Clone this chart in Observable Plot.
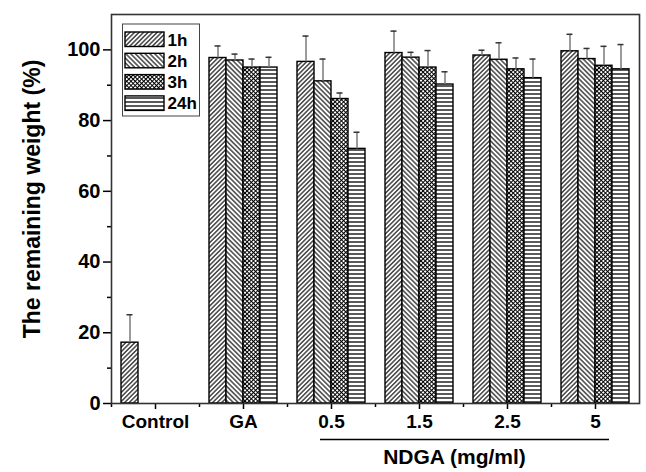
<!DOCTYPE html>
<html>
<head>
<meta charset="utf-8">
<script src="https://cdn.jsdelivr.net/npm/d3@7"></script>
<script src="https://cdn.jsdelivr.net/npm/@observablehq/plot@0.6"></script>
<style>
  html, body { margin: 0; padding: 0; background: #fff; }
  svg { display: block; overflow: visible; }
</style>
</head>
<body>
<div id="chart"></div>
<script>
// ---- data ----
const categories = ["Control", "GA", "0.5", "1.5", "2.5", "5"];
const series = ["1h", "2h", "3h", "24h"];
const mean1h  = [17.2, 97.7, 96.6, 99.1, 98.4, 99.6];
const mean2h  = [null, 97.0, 91.1, 97.8, 97.2, 97.4];
const mean3h  = [null, 95.0, 86.1, 95.0, 94.5, 95.5];
const mean24h = [null, 95.0, 72.0, 90.2, 92.0, 94.5];
const err1h  = [7.9, 3.4, 7.3, 6.2, 1.5, 4.8];
const err2h  = [null, 1.8, 6.3, 1.5, 4.8, 3.0];
const err3h  = [null, 2.4, 1.7, 4.8, 3.2, 5.5];
const err24h = [null, 2.9, 4.7, 3.6, 5.4, 7.0];
const yTicks = [0, 20, 40, 60, 80, 100];
const yMinorTicks = [10, 30, 50, 70, 90];
const yLabel = "The remaining weight (%)";
const groupLabel = "NDGA (mg/ml)";
const groupedCategories = ["0.5", "5"];

const means = [mean1h, mean2h, mean3h, mean24h];
const errs = [err1h, err2h, err3h, err24h];
const rows = categories.flatMap((c, i) =>
  series.map((s, j) => ({cat: c, series: s, value: means[j][i], err: errs[j][i]}))
).filter(d => d.value != null);

// ---- layout ----
const W = 646, H = 472;
const mL = 111, mR = 7, mT = 14, mB = 69;
const fxStep = (W - mL - mR) / categories.length;
const FONT = "'Liberation Sans', Arial, Helvetica, sans-serif";

const plot = Plot.plot({
  width: W, height: H,
  marginLeft: mL, marginRight: mR, marginTop: mT, marginBottom: mB,
  style: {fontFamily: FONT, fontWeight: "bold", color: "#000", background: "#fff"},
  fx: {domain: categories, padding: 0, label: null},
  x: {domain: series, paddingInner: 0, paddingOuter: 0.48, axis: null},
  y: {domain: [0, 110], label: null},
  color: {domain: series, range: series.map(s => `url(#pat-${s})`)},
  marks: [
    Plot.barY(rows, {fx: "cat", x: "series", y: "value", fill: "series", stroke: "#000", strokeWidth: 1.4}),
    Plot.ruleX(rows, {fx: "cat", x: "series", y1: "value", y2: d => d.value + d.err, stroke: "#7a7a7a", strokeWidth: 1.5}),
    Plot.tickY(rows, {fx: "cat", x: "series", y: d => d.value + d.err, stroke: "#333", strokeWidth: 1.5, insetLeft: 5.5, insetRight: 5.5}),
    Plot.axisY({ticks: yTicks, tickSize: 8, tickPadding: 3, fontSize: 20, label: null, strokeWidth: 1.5}),
    Plot.axisY({ticks: yMinorTicks, tickSize: 4, text: null, label: null, strokeWidth: 1.5}),
    Plot.axisFx({anchor: "bottom", tickSize: 6, tickPadding: 5, fontSize: 19, label: null, strokeWidth: 1.5}),
    Plot.axisFx({anchor: "bottom", tickSize: 4, text: null, label: null, dx: -fxStep / 2, strokeWidth: 1.5}),
    Plot.frame({facet: "super", stroke: "#333", strokeWidth: 1.6}),
    Plot.text([yLabel], {facet: "super", text: d => d, frameAnchor: "left", textAnchor: "middle", rotate: -90, dx: -79, dy: -10, fontSize: 23, fontWeight: "bold", fill: "#000"})
  ]
});

// ---- pattern definitions ----
const NS = "http://www.w3.org/2000/svg";
function el(name, attrs, parent) {
  const e = document.createElementNS(NS, name);
  for (const k in attrs) e.setAttribute(k, attrs[k]);
  if (parent) parent.appendChild(e);
  return e;
}
const defs = el("defs", {});
plot.insertBefore(defs, plot.firstChild);
function pattern(id, size, transform) {
  const p = el("pattern", {id, width: size, height: size, patternUnits: "userSpaceOnUse"}, defs);
  if (transform) p.setAttribute("patternTransform", transform);
  el("rect", {width: size, height: size, fill: "#fff"}, p);
  return p;
}
let p = pattern("pat-1h", 3.2, "rotate(45)");
el("line", {x1: 1.6, y1: 0, x2: 1.6, y2: 3.2, stroke: "#000", "stroke-width": 1.1}, p);
p = pattern("pat-2h", 3.4, "rotate(-45)");
el("line", {x1: 1.7, y1: 0, x2: 1.7, y2: 3.4, stroke: "#000", "stroke-width": 1.1}, p);
p = pattern("pat-3h", 3, "rotate(45)");
el("line", {x1: 1.5, y1: 0, x2: 1.5, y2: 3, stroke: "#000", "stroke-width": 1}, p);
el("line", {x1: 0, y1: 1.5, x2: 3, y2: 1.5, stroke: "#000", "stroke-width": 1}, p);
p = pattern("pat-24h", 4, null);
el("line", {x1: 0, y1: 2, x2: 4, y2: 2, stroke: "#000", "stroke-width": 1.3}, p);

// ---- legend inside the frame ----
const lg = el("g", {transform: `translate(${mL + 11.5},${mT + 10})`, "font-family": FONT, "font-weight": "bold", "font-size": 17, "text-anchor": "start"}, plot);
el("rect", {x: 0, y: 0, width: 77, height: 92, fill: "#fff", stroke: "#444", "stroke-width": 1}, lg);
series.forEach((s, i) => {
  const y = 8 + i * 21.3;
  el("rect", {x: 2.5, y, width: 39, height: 14.5, fill: `url(#pat-${s})`, stroke: "#000", "stroke-width": 1.4}, lg);
  const t = el("text", {x: 45, y: y + 13.5, fill: "#000", "text-anchor": "start"}, lg);
  t.textContent = s;
});

// ---- NDGA group annotation ----
const fx = plot.scale("fx");
const gx0 = fx.apply(groupedCategories[0]) + fx.bandwidth / 2 - 11;
const gx1 = fx.apply(groupedCategories[1]) + fx.bandwidth / 2 + 14;
el("line", {x1: gx0, x2: gx1, y1: H - mB + 36.5, y2: H - mB + 36.5, stroke: "#000", "stroke-width": 1.6}, plot);
const gt = el("text", {x: (gx0 + gx1) / 2 - 10, y: H - mB + 60.5, "text-anchor": "middle", "font-family": FONT, "font-weight": "bold", "font-size": 21, fill: "#000"}, plot);
gt.textContent = groupLabel;

document.getElementById("chart").appendChild(plot);
</script>
</body>
</html>
